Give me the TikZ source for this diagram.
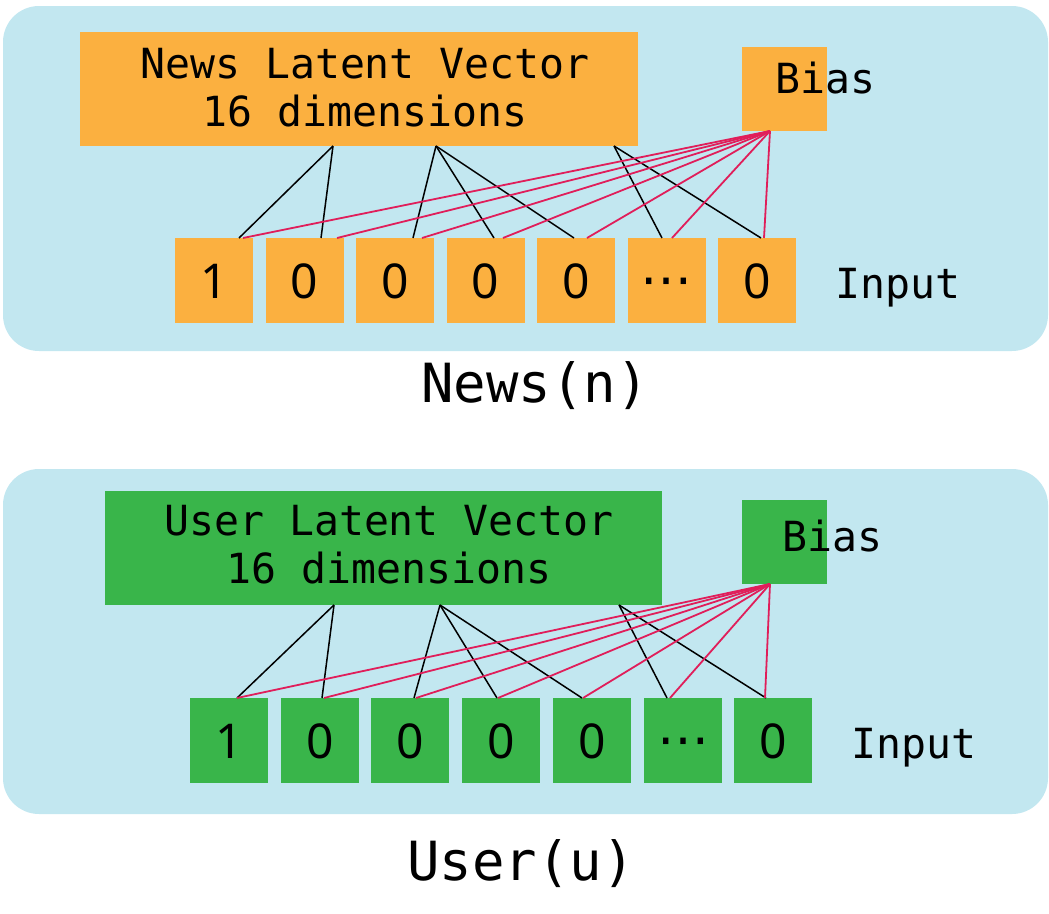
\documentclass[tikz,border=0pt]{standalone}
\usepackage{fontspec}
\usetikzlibrary{calc}
\newfontfamily\monof{DejaVu Sans Mono}
\newfontfamily\digitf{Noto Sans}
\newfontfamily\symf{DejaVu Sans}
\definecolor{panelbg}{RGB}{194,231,240}
\definecolor{newsor}{RGB}{251,176,64}
\definecolor{usergr}{RGB}{57,181,74}
\definecolor{linkred}{RGB}{224,30,90}
\tikzset{
  panel/.style={fill=panelbg, draw=none, rounded corners=36pt},
  boxfill/.style={fill=#1, draw=none},
  blk/.style={draw=black, line width=1.5pt},
  redl/.style={draw=linkred, line width=1.8pt},
  lbl/.style={font=\monof\fontsize{41.5}{48}\selectfont, inner sep=0pt, align=center},
  title/.style={font=\monof\fontsize{54}{60}\selectfont, inner sep=0pt},
  dig/.style={font=\digitf\fontsize{48}{56}\selectfont, inner sep=0pt},
  ell/.style={font=\symf\fontsize{52}{52}\selectfont, inner sep=0pt}
}
\begin{document}
\begin{tikzpicture}[x=1pt,y=-1pt]
\useasboundingbox (0,0) rectangle (1049,913);
% ---------- top panel ----------
\fill[panel] (3,6) rectangle (1048,351);
\fill[boxfill=newsor] (80,32) rectangle (638,146);
\node[lbl, anchor=base] (latN) at (365,78) {News Latent Vector};
\node[lbl, anchor=base] (latN2) at (365,126) {16 dimensions};
\fill[boxfill=newsor] (742,47) rectangle (827,131);
\node[lbl, anchor=base west] (biasN) at (775,93) {Bias};
\foreach \i/\x/\t in {1/175/1,2/265.5/0,3/356/0,4/446.5/0,5/537/0,7/718/0}{
  \node[boxfill=newsor, minimum width=78pt, minimum height=85pt, inner sep=0pt, anchor=north west] (iN\i) at (\x,238) {};
  \node[dig, anchor=base] at ($(iN\i.north)+(0,60)$) {\t};
}
\node[boxfill=newsor, minimum width=78pt, minimum height=85pt, inner sep=0pt, anchor=north west] (iN6) at (627.5,238) {};
\node[ell, anchor=base] at ($(iN6.north)+(0,59)$) {⋯};
\node[lbl, anchor=base west] (inN) at (835,298) {Input};
\coordinate (nb1) at (333,146);
\coordinate (nb2) at (436,146);
\coordinate (nb3) at (614,146);
\coordinate (nr) at (770,131);
\foreach \s/\e in {nb1/239,nb1/321,nb2/413,nb2/494,nb2/574,nb3/662,nb3/761}{
  \coordinate (tmp) at (\e,238);
  \draw[blk] (\s) -- (tmp);
}
\foreach \e in {243,337,422,503,587,672,764}{
  \coordinate (tmp) at (\e,238);
  \draw[redl] (nr) -- (tmp);
}
\node[title, anchor=base] (tN) at (535,402) {News(n)};
% ---------- bottom panel ----------
\fill[panel] (3,469) rectangle (1048,814);
\fill[boxfill=usergr] (105,491) rectangle (662,605);
\node[lbl, anchor=base] (latU) at (389,535) {User Latent Vector};
\node[lbl, anchor=base] (latU2) at (389,583) {16 dimensions};
\fill[boxfill=usergr] (742,500) rectangle (827,584);
\node[lbl, anchor=base west] (biasU) at (782,551) {Bias};
\foreach \i/\x/\t in {1/190/1,2/281/0,3/371/0,4/462/0,5/553/0,7/734/0}{
  \node[boxfill=usergr, minimum width=78pt, minimum height=85pt, inner sep=0pt, anchor=north west] (iU\i) at (\x,698) {};
  \node[dig, anchor=base] at ($(iU\i.north)+(0,60)$) {\t};
}
\node[boxfill=usergr, minimum width=78pt, minimum height=85pt, inner sep=0pt, anchor=north west] (iU6) at (644,698) {};
\node[ell, anchor=base] at ($(iU6.north)+(0,59)$) {⋯};
\node[lbl, anchor=base west] (inU) at (851,758) {Input};
\coordinate (ub1) at (334,605);
\coordinate (ub2) at (440,605);
\coordinate (ub3) at (619,605);
\coordinate (ur) at (770,584);
\foreach \s/\e in {ub1/237,ub1/322,ub2/414,ub2/497,ub2/582,ub3/667,ub3/766}{
  \coordinate (tmp) at (\e,698);
  \draw[blk] (\s) -- (tmp);
}
\foreach \e in {237,324,416,498,583,670,765}{
  \coordinate (tmp) at (\e,698);
  \draw[redl] (ur) -- (tmp);
}
\node[title, anchor=base] (tU) at (521,880) {User(u)};
\end{tikzpicture}
\end{document}
